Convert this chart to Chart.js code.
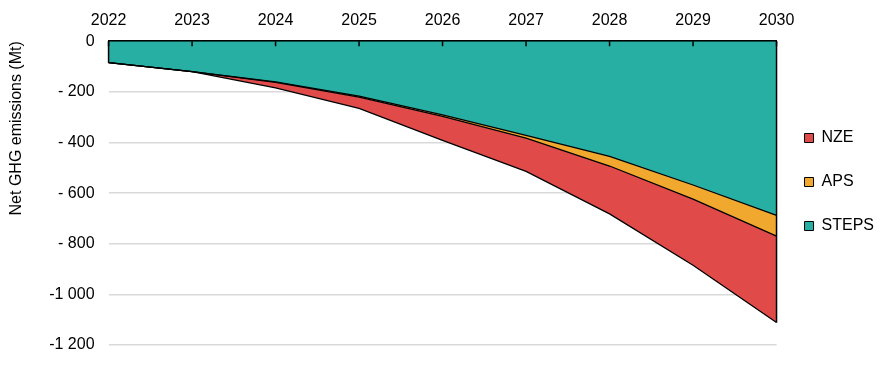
<!DOCTYPE html>
<html>
<head>
<meta charset="utf-8">
<script src="https://cdn.jsdelivr.net/npm/chart.js@4.4.0/dist/chart.umd.min.js"></script>
<style>
  html, body { margin: 0; padding: 0; background: #fff; }
  #wrap { width: 893px; height: 372px; }
</style>
</head>
<body>
<div id="wrap"><canvas id="ghgChart" width="893" height="372"></canvas></div>
<script>
const years = ['2022', '2023', '2024', '2025', '2026', '2027', '2028', '2029', '2030'];
const steps = [-85, -120, -161, -217, -291, -372, -455, -568, -688];
const aps   = [-85, -120, -163, -221, -297, -383, -493, -624, -770];
const nze   = [-85, -120, -184, -265, -392, -514, -682, -885, -1111];
const yTicks = [0, -200, -400, -600, -800, -1000, -1200];
const yTickText = ['0', '- 200', '- 400', '- 600', '- 800', '-1 000', '-1 200'];

const font = "'Liberation Sans', Arial, Helvetica, sans-serif";

// petits traits vers l'intérieur + bords verticaux des aires
const edgePlugin = {
    id: 'edges',
    afterDatasetsDraw(chart) {
        const {ctx, chartArea, scales: {x, y}} = chart;
        ctx.save();
        ctx.strokeStyle = '#000';
        ctx.lineWidth = 1.5;
        [0, years.length - 1].forEach(i => {
            const low = Math.min(steps[i], aps[i], nze[i]);
            const px = x.getPixelForValue(i);
            ctx.beginPath();
            ctx.moveTo(px, y.getPixelForValue(0));
            ctx.lineTo(px, y.getPixelForValue(low));
            ctx.stroke();
        });
        years.forEach((yr, i) => {
            const px = x.getPixelForTick(i);
            ctx.beginPath();
            ctx.moveTo(px, chartArea.top);
            ctx.lineTo(px, chartArea.top + 5);
            ctx.stroke();
        });
        ctx.restore();
    }
};

new Chart(document.getElementById('ghgChart'), {
    type: 'line',
    data: {
        labels: years,
        datasets: [
            {
                label: 'NZE',
                data: nze,
                backgroundColor: '#E04B4A',
                borderColor: '#000',
                borderWidth: 1.3,
                fill: '+1',
                pointRadius: 0,
                tension: 0
            },
            {
                label: 'APS',
                data: aps,
                backgroundColor: '#F0A82F',
                borderColor: '#000',
                borderWidth: 1.3,
                fill: '+1',
                pointRadius: 0,
                tension: 0
            },
            {
                label: 'STEPS',
                data: steps,
                backgroundColor: '#28AFA3',
                borderColor: '#000',
                borderWidth: 1.3,
                fill: 'origin',
                pointRadius: 0,
                tension: 0
            }
        ]
    },
    options: {
        responsive: false,
        animation: false,
        layout: {
            padding: { top: -1, bottom: 27, left: 0, right: 9 }
        },
        plugins: {
            filler: { drawTime: 'beforeDatasetsDraw' },
            tooltip: { enabled: false },
            legend: {
                position: 'right',
                title: { display: true, text: '', padding: 10, font: { size: 0 } },
                labels: {
                    color: '#000',
                    font: { family: font, size: 16 },
                    boxWidth: 9,
                    boxHeight: 9,
                    padding: 28,
                    generateLabels(chart) {
                        return chart.data.datasets.map((ds, i) => ({
                            text: ds.label,
                            fillStyle: ds.backgroundColor,
                            strokeStyle: '#000',
                            lineWidth: 1,
                            fontColor: '#000',
                            datasetIndex: i
                        }));
                    }
                }
            }
        },
        scales: {
            x: {
                position: 'top',
                z: 1,
                offset: false,
                grid: { display: false, drawTicks: false },
                border: { display: true, color: '#000', width: 2 },
                ticks: {
                    color: '#000',
                    padding: 11.5,
                    maxRotation: 0,
                    font: { family: font, size: 16 }
                }
            },
            y: {
                min: -1200,
                max: 0,
                grid: {
                    color: '#d9d9d9',
                    lineWidth: 1.5,
                    drawTicks: false
                },
                border: { display: false },
                afterBuildTicks(axis) {
                    axis.ticks = yTicks.map(v => ({ value: v }));
                },
                ticks: {
                    color: '#000',
                    padding: 14,
                    font: { family: font, size: 16 },
                    callback(value) {
                        const i = yTicks.indexOf(value);
                        return i >= 0 ? yTickText[i] : '';
                    }
                },
                title: {
                    display: true,
                    text: 'Net GHG emissions (Mt)',
                    align: 'end',
                    color: '#000',
                    font: { family: font, size: 16 },
                    padding: { top: 7, bottom: 9 }
                }
            }
        }
    },
    plugins: [edgePlugin]
});
</script>
</body>
</html>
